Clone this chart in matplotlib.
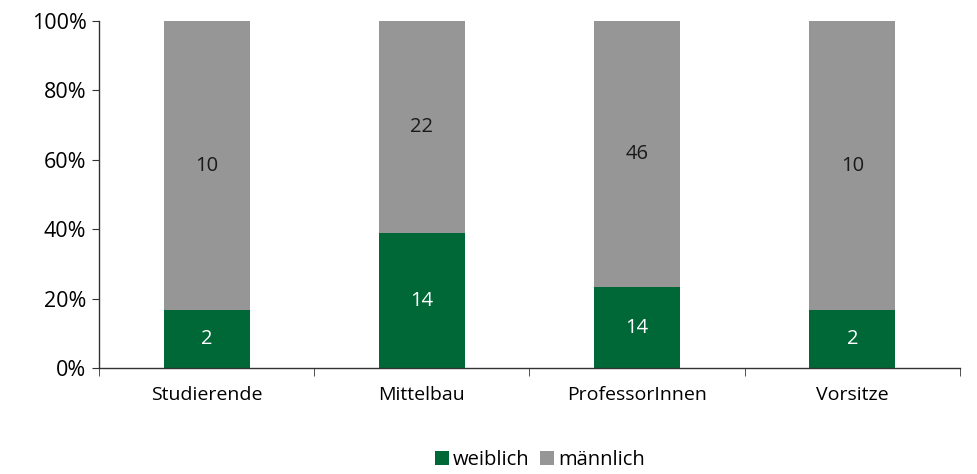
import numpy as np
import matplotlib.pyplot as plt
from matplotlib.ticker import PercentFormatter

plt.rcParams['font.family'] = ['Open Sans', 'DejaVu Sans']

categories = ["Studierende", "Mittelbau", "ProfessorInnen", "Vorsitze"]
weiblich = np.array([2, 14, 14, 2])
maennlich = np.array([10, 22, 46, 10])

total = weiblich + maennlich
w_pct = weiblich / total * 100
m_pct = maennlich / total * 100

green = "#006837"
grey = "#969696"

fig = plt.figure(figsize=(9.77, 4.74), dpi=100)
ax = fig.add_axes([0.1013, 0.2236, 0.8813, 0.7321])

x = np.arange(len(categories))
ax.bar(x, w_pct, width=0.4, color=green, label="weiblich")
ax.bar(x, m_pct, width=0.4, bottom=w_pct, color=grey, label="männlich")

for xi, wp, mp, wv, mv in zip(x, w_pct, m_pct, weiblich, maennlich):
    ax.text(xi, wp / 2, str(wv), ha="center", va="center", color="white", fontsize=14.5)
    ax.text(xi, wp + mp / 2, str(mv), ha="center", va="center", color="#1a1a1a", fontsize=14.5)

ax.set_xlim(-0.5, len(categories) - 0.5)
ax.set_ylim(0, 100)
ax.set_yticks(np.arange(0, 101, 20))
ax.yaxis.set_major_formatter(PercentFormatter(decimals=0))

# category labels in middle, tick marks at boundaries
ax.set_xticks(x)
ax.set_xticklabels(categories)
ax.tick_params(axis="x", length=0, pad=13, labelsize=14)
ax.set_xticks(np.arange(-0.5, len(categories)), minor=True)
ax.tick_params(axis="x", which="minor", length=6, direction="out", color="#333333")
ax.tick_params(axis="y", length=5, color="#333333", labelsize=15.5, pad=4)

for s in ["top", "right"]:
    ax.spines[s].set_visible(False)
for s in ["left", "bottom"]:
    ax.spines[s].set_color("#333333")
    ax.spines[s].set_linewidth(1.0)

ax.legend(loc="center", bbox_to_anchor=(0.512, -0.265), ncol=2, frameon=False,
          fontsize=14.5, handlelength=0.7, handleheight=0.7, handletextpad=0.2,
          columnspacing=0.5, borderpad=0)

fig.savefig("out.png", dpi=100)
